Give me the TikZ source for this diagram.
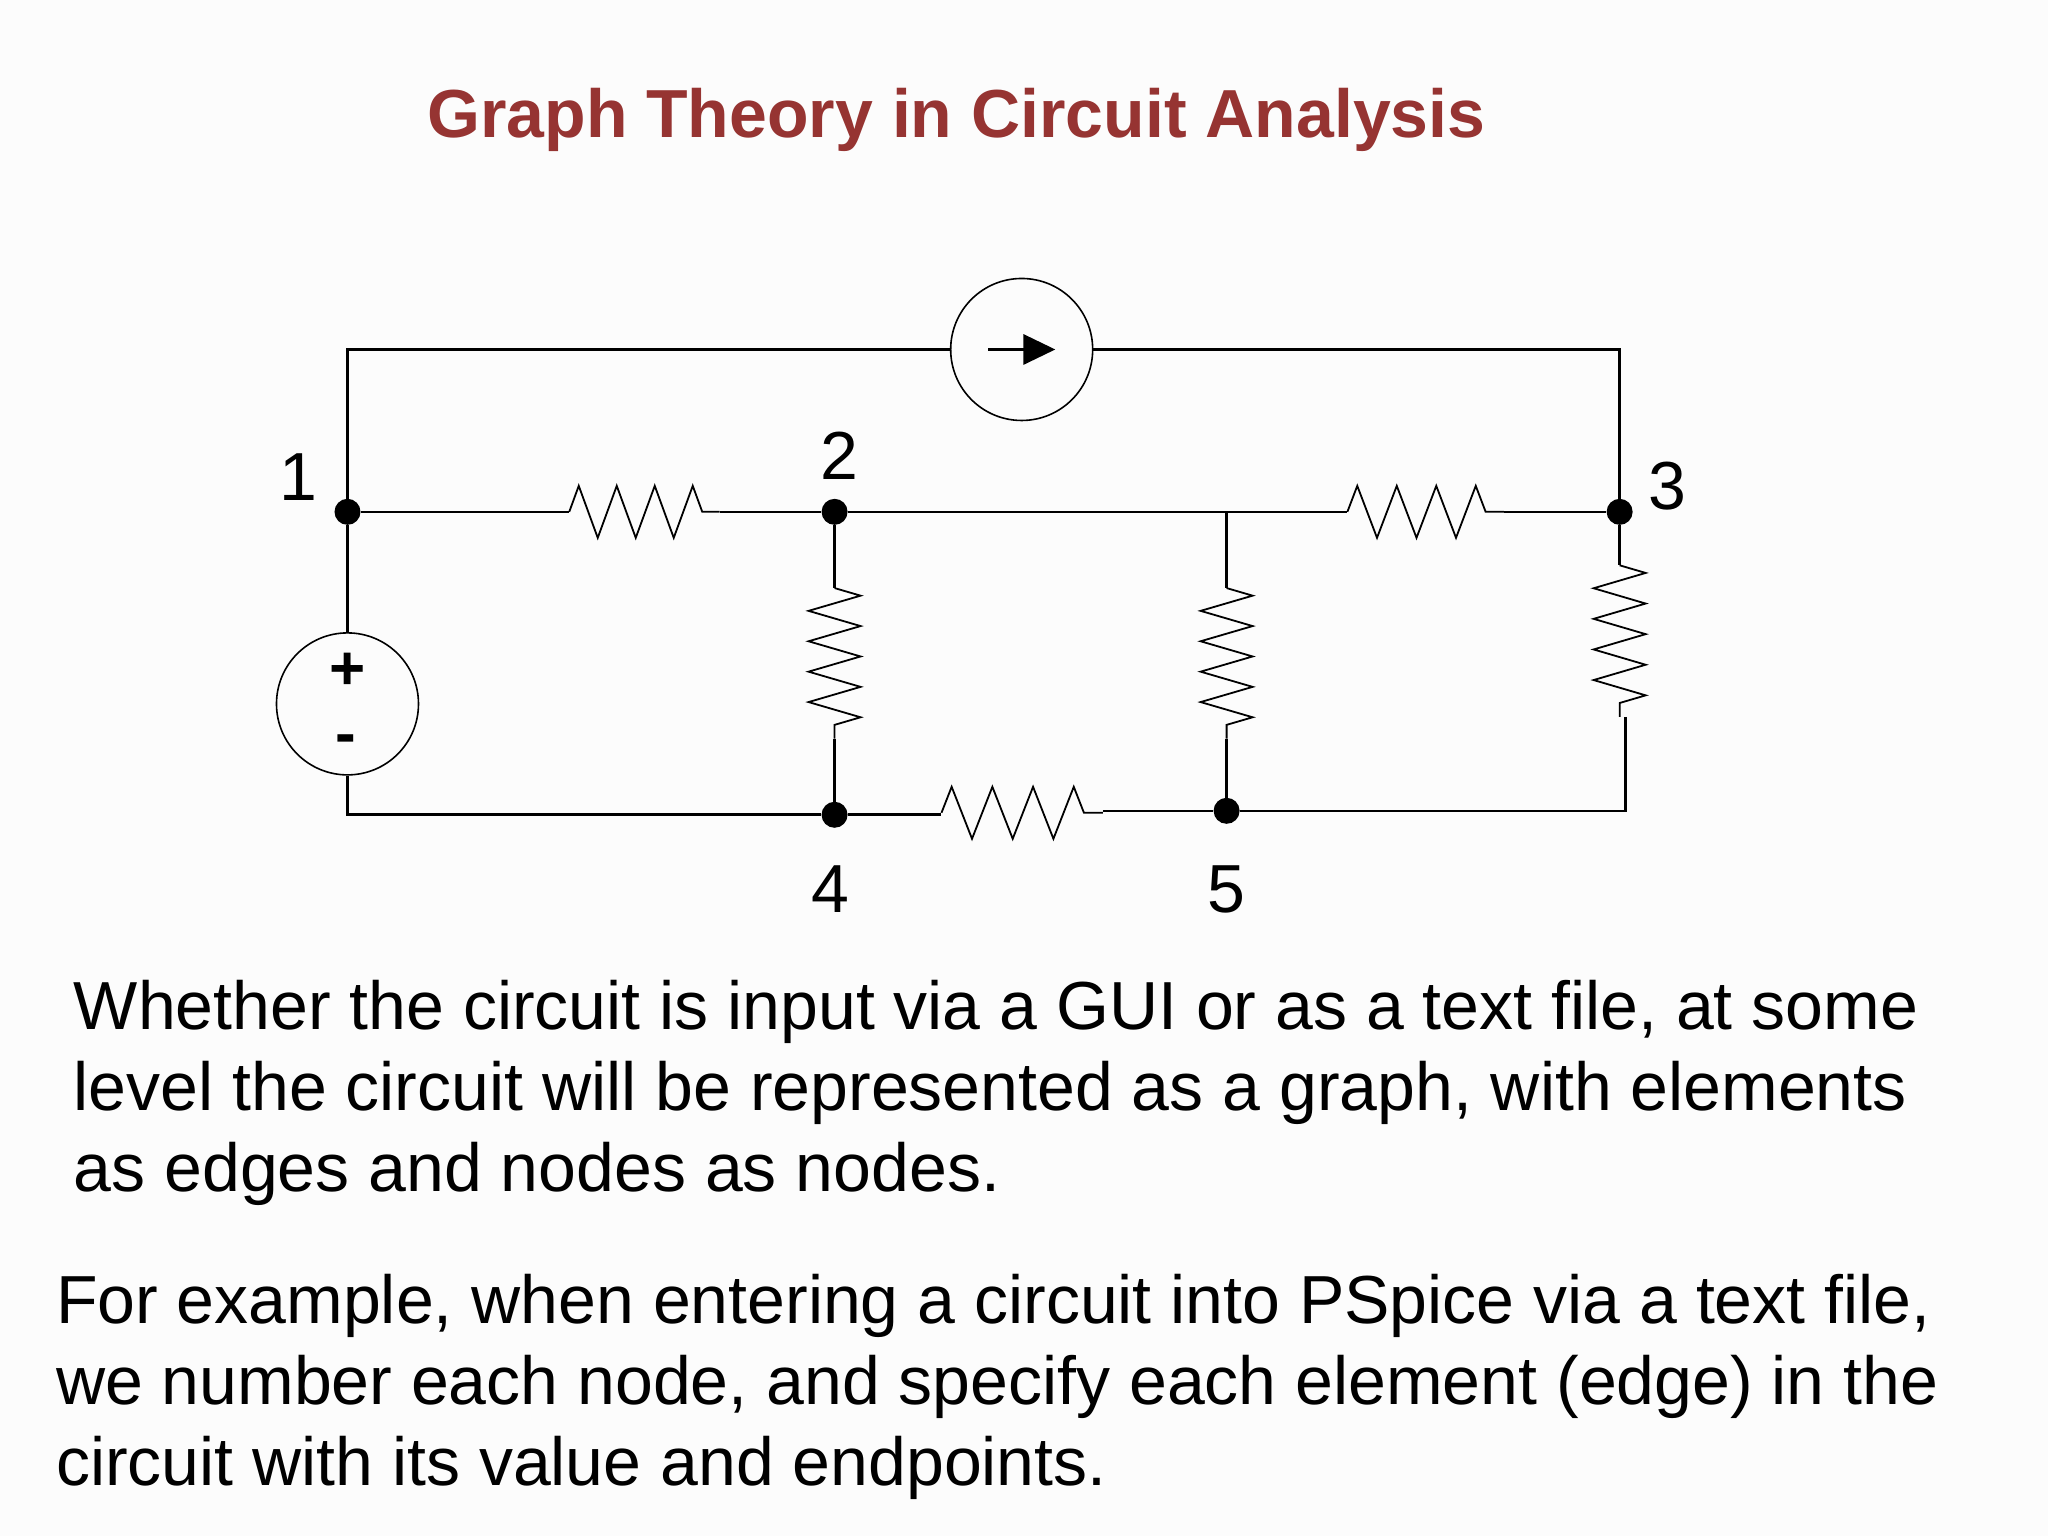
\documentclass[tikz,border=0pt]{standalone}
\usepackage{fontspec}
\setmainfont{Liberation Sans}
\usetikzlibrary{decorations.pathmorphing,arrows.meta}
\definecolor{titlered}{RGB}{150,52,50}
\begin{document}
\begin{tikzpicture}[x=0.99pt,y=-0.99pt,
  wire/.style={line width=2.6pt},
  res/.style={line width=1.8pt,decorate,decoration={zigzag,segment length=#1,amplitude=26pt}},
  dot/.style={circle,fill=black,inner sep=0pt,minimum size=26pt},
  lab/.style={font=\fontsize{68}{70}\selectfont},
  src/.style={circle,draw,line width=1.6pt,minimum size=142pt,inner sep=0pt},
  body/.style={anchor=base west,font=\fontsize{68}{72}\selectfont}]
\useasboundingbox (0,0) rectangle (2068.7,1551.5);
\fill[white!98!gray] (0,0) rectangle (2068.7,1551.5);
\node[font=\bfseries\fontsize{68}{72}\selectfont,text=titlered] (title) at (966,121) {Graph Theory in Circuit Analysis};
% nodes
\node[dot] (n1) at (351,517) {};
\node[dot] (n2) at (843,517) {};
\node[dot] (n3) at (1636,517) {};
\node[dot] (n4) at (843,823) {};
\node[dot] (n5) at (1239,819) {};
\coordinate (tl) at (351,353);
\coordinate (tr) at (1636,353);
\coordinate (t2) at (1239,517);
\coordinate (br) at (1642,819);
\coordinate (bl) at (351,823);
% sources
\node[src] (is) at (1032,353) {};
\node[src] (vs) at (351,711) {};
\node[font=\bfseries\fontsize{62}{62}\selectfont] (plus) at (351,678) {+};
\node[font=\bfseries\fontsize{62}{62}\selectfont] (minus) at (349,752) {-};
\draw[line width=3.4pt,-{Triangle[length=32pt,width=30pt]}] (998,353) -- (1066,353);
% wires
\draw[wire] (n1) -- (tl) -- (is.west);
\draw[wire] (is.east) -- (tr) -- (n3);
\draw[wire] (n1) -- (vs.north);
\draw[wire] (vs.south) -- (bl) -- (n4);
% R12
\draw[wire] (n1) -- (575,517);
\draw[res=38pt] (575,517) -- (727,517);
\draw[wire] (727,517) -- (n2) -- (t2) -- (1361,517);
\draw[res=39.5pt] (1361,517) -- (1519,517);
\draw[wire] (1519,517) -- (n3);
% R24
\draw[wire] (n2) -- (843,594);
\draw[res=30.4pt] (843,594) -- (843,746);
\draw[wire] (843,746) -- (n4);
% middle
\draw[wire] (t2) -- (1239,594);
\draw[res=30.4pt] (1239,594) -- (1239,746);
\draw[wire] (1239,746) -- (n5);
% R35
\draw[wire] (n3) -- (1636,571);
\draw[res=30.6pt] (1636,571) -- (1636,724);
\draw[wire] (1642,724) -- (br) -- (n5);
% R45
\draw[wire] (n4) -- (951,823);
\draw[res=40.7pt] (951,821) -- (1114,821);
\draw[wire] (1114,819) -- (n5);
% labels
\node[lab] (l1) at (301,482) {1};
\node[lab] (l2) at (848,460) {2};
\node[lab] (l3) at (1684,491) {3};
\node[lab] (l4) at (839,898) {4};
\node[lab] (l5) at (1239,898) {5};
% text
\node[body] (p1a) at (71,1040) {Whether the circuit is input via a GUI or as a text file, at some};
\node[body] (p1b) at (71,1122) {level the circuit will be represented as a graph, with elements};
\node[body] (p1c) at (71,1204) {as edges and nodes as nodes.};
\node[body] (p2a) at (53,1337) {For example, when entering a circuit into PSpice via a text file,};
\node[body] (p2b) at (53,1419) {we number each node, and specify each element (edge) in the};
\node[body] (p2c) at (53,1500) {circuit with its value and endpoints.};
\end{tikzpicture}
\end{document}
